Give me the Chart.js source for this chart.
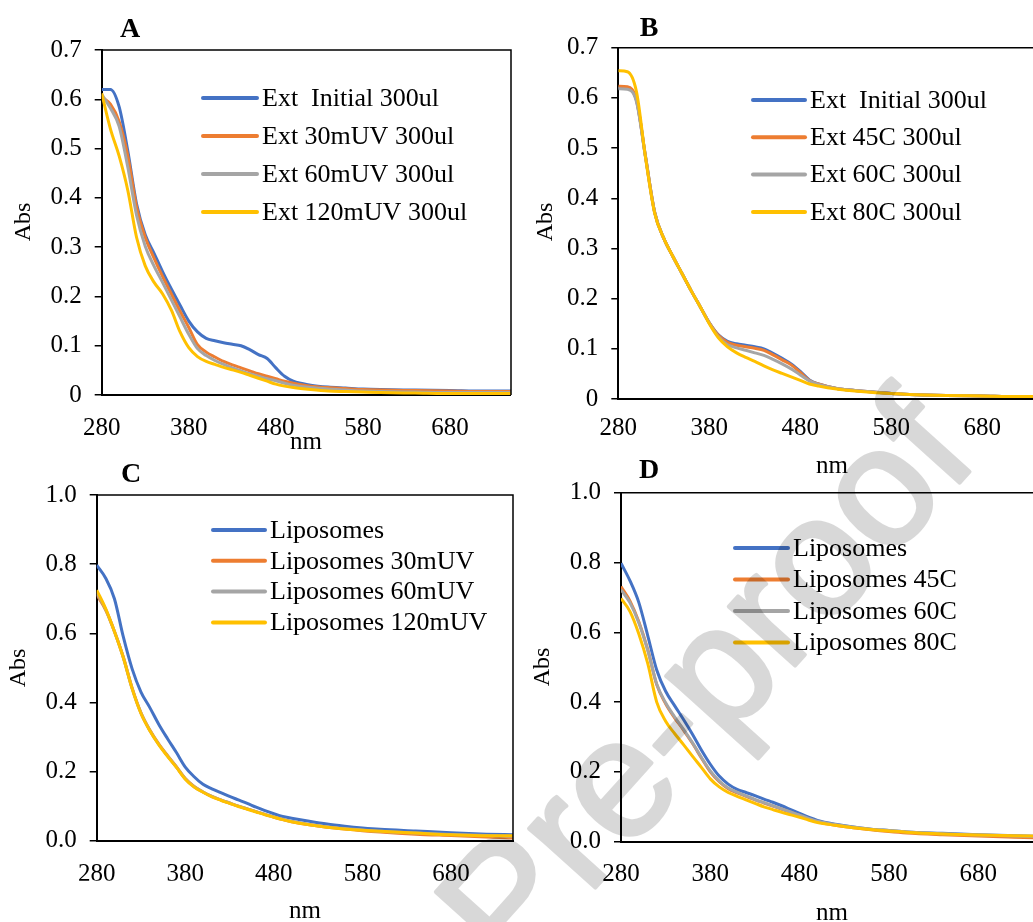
<!DOCTYPE html>
<html>
<head>
<meta charset="utf-8">
<script src="https://cdn.jsdelivr.net/npm/chart.js@4.4.1/dist/chart.umd.min.js"></script>
<style>
  html, body { margin: 0; padding: 0; overflow: hidden; background: #fff; width: 1033px; height: 922px; }
  canvas { position: absolute; left: 0; top: 0; }
  #mark { opacity: 0.15; }
</style>
</head>
<body>
<canvas id="chartA" width="1100" height="922"></canvas>
<canvas id="chartB" width="1100" height="922"></canvas>
<canvas id="chartC" width="1100" height="922"></canvas>
<canvas id="chartD" width="1100" height="922"></canvas>
<canvas id="mark" width="1033" height="922"></canvas>
<script>
// wavelengths (nm) shared by every series
const nm = [280, 290, 300, 310, 320, 330, 340, 350, 360, 370, 380, 390, 400, 410, 420, 430, 440, 450, 460, 470, 480, 490, 500, 520, 540, 560, 580, 600, 640, 680, 720, 750];

const xTicks = [280, 380, 480, 580, 680];
const yTicksAB = [0, 0.1, 0.2, 0.3, 0.4, 0.5, 0.6, 0.7];
const yTicksCD = [0, 0.2, 0.4, 0.6, 0.8, 1.0];

// A - extract, UV exposure
const labelsA = ["Ext  Initial 300ul", "Ext 30mUV 300ul", "Ext 60mUV 300ul", "Ext 120mUV 300ul"];
const extInitialA = [0.620, 0.620, 0.585, 0.495, 0.388, 0.325, 0.288, 0.250, 0.215, 0.182, 0.150, 0.128, 0.115, 0.110, 0.106, 0.103, 0.100, 0.092, 0.082, 0.074, 0.055, 0.038, 0.028, 0.020, 0.016, 0.014, 0.012, 0.011, 0.010, 0.009, 0.008, 0.008];
const ext30mUV = [0.605, 0.590, 0.555, 0.485, 0.382, 0.320, 0.278, 0.240, 0.205, 0.170, 0.137, 0.102, 0.087, 0.077, 0.068, 0.061, 0.055, 0.049, 0.043, 0.038, 0.033, 0.028, 0.024, 0.018, 0.015, 0.013, 0.011, 0.010, 0.009, 0.008, 0.007, 0.007];
const ext60mUV = [0.610, 0.582, 0.545, 0.462, 0.365, 0.302, 0.262, 0.228, 0.193, 0.158, 0.123, 0.094, 0.080, 0.070, 0.062, 0.055, 0.049, 0.043, 0.038, 0.033, 0.029, 0.024, 0.020, 0.015, 0.012, 0.010, 0.008, 0.007, 0.006, 0.005, 0.005, 0.005];
const ext120mUV = [0.612, 0.540, 0.485, 0.415, 0.320, 0.262, 0.229, 0.205, 0.172, 0.128, 0.096, 0.078, 0.068, 0.062, 0.056, 0.051, 0.046, 0.040, 0.034, 0.028, 0.022, 0.018, 0.015, 0.011, 0.008, 0.007, 0.006, 0.005, 0.004, 0.003, 0.003, 0.003];

// B - extract, heating
const labelsB = ["Ext  Initial 300ul", "Ext 45C 300ul", "Ext 60C 300ul", "Ext 80C 300ul"];
const extInitialB = [0.620, 0.619, 0.595, 0.482, 0.372, 0.320, 0.284, 0.250, 0.216, 0.184, 0.152, 0.128, 0.115, 0.110, 0.107, 0.104, 0.100, 0.091, 0.081, 0.070, 0.055, 0.038, 0.030, 0.021, 0.017, 0.014, 0.011, 0.009, 0.007, 0.006, 0.005, 0.005];
const ext45C = [0.623, 0.622, 0.596, 0.482, 0.372, 0.320, 0.284, 0.250, 0.216, 0.184, 0.152, 0.127, 0.113, 0.107, 0.104, 0.101, 0.097, 0.088, 0.078, 0.068, 0.053, 0.037, 0.030, 0.021, 0.017, 0.014, 0.011, 0.009, 0.007, 0.006, 0.005, 0.005];
const ext60C = [0.618, 0.617, 0.592, 0.480, 0.371, 0.320, 0.284, 0.250, 0.216, 0.184, 0.151, 0.124, 0.108, 0.102, 0.097, 0.092, 0.087, 0.079, 0.070, 0.060, 0.048, 0.036, 0.029, 0.021, 0.017, 0.014, 0.011, 0.009, 0.007, 0.006, 0.005, 0.005];
const ext80C = [0.654, 0.652, 0.612, 0.480, 0.370, 0.320, 0.284, 0.250, 0.216, 0.184, 0.150, 0.122, 0.104, 0.092, 0.083, 0.075, 0.066, 0.058, 0.051, 0.044, 0.037, 0.030, 0.026, 0.020, 0.016, 0.013, 0.011, 0.009, 0.007, 0.006, 0.005, 0.005];

// C - liposomes, UV exposure
const labelsC = ["Liposomes", "Liposomes 30mUV", "Liposomes 60mUV", "Liposomes 120mUV"];
const liposomesC = [0.797, 0.760, 0.700, 0.590, 0.497, 0.430, 0.385, 0.337, 0.295, 0.255, 0.213, 0.185, 0.163, 0.150, 0.139, 0.128, 0.118, 0.108, 0.097, 0.087, 0.078, 0.070, 0.065, 0.056, 0.048, 0.042, 0.037, 0.033, 0.028, 0.023, 0.019, 0.017];
const lipo30mUV = [0.712, 0.668, 0.606, 0.532, 0.442, 0.370, 0.320, 0.280, 0.246, 0.214, 0.180, 0.157, 0.141, 0.128, 0.118, 0.109, 0.100, 0.092, 0.084, 0.076, 0.068, 0.061, 0.055, 0.046, 0.039, 0.034, 0.029, 0.025, 0.019, 0.015, 0.011, 0.008];
const lipo60mUV = [0.718, 0.670, 0.605, 0.530, 0.440, 0.369, 0.319, 0.279, 0.245, 0.213, 0.179, 0.156, 0.141, 0.128, 0.118, 0.109, 0.100, 0.092, 0.084, 0.076, 0.069, 0.062, 0.056, 0.047, 0.040, 0.035, 0.031, 0.027, 0.022, 0.018, 0.015, 0.013];
const lipo120mUV = [0.725, 0.672, 0.605, 0.530, 0.440, 0.368, 0.318, 0.278, 0.244, 0.212, 0.178, 0.155, 0.140, 0.127, 0.117, 0.108, 0.099, 0.091, 0.083, 0.075, 0.068, 0.061, 0.055, 0.046, 0.039, 0.034, 0.030, 0.027, 0.022, 0.017, 0.014, 0.014];

// D - liposomes, heating
const labelsD = ["Liposomes", "Liposomes 45C", "Liposomes 60C", "Liposomes 80C"];
const liposomesD = [0.798, 0.748, 0.685, 0.590, 0.492, 0.431, 0.390, 0.350, 0.308, 0.263, 0.222, 0.188, 0.165, 0.150, 0.141, 0.132, 0.122, 0.113, 0.103, 0.092, 0.081, 0.070, 0.061, 0.050, 0.042, 0.036, 0.032, 0.028, 0.024, 0.020, 0.017, 0.015];
const lipo45C = [0.731, 0.690, 0.630, 0.550, 0.450, 0.395, 0.355, 0.320, 0.282, 0.240, 0.200, 0.172, 0.152, 0.140, 0.130, 0.120, 0.111, 0.102, 0.093, 0.084, 0.075, 0.065, 0.057, 0.047, 0.040, 0.034, 0.029, 0.025, 0.020, 0.016, 0.013, 0.011];
const lipo60C = [0.722, 0.685, 0.627, 0.548, 0.452, 0.398, 0.358, 0.322, 0.284, 0.242, 0.203, 0.174, 0.154, 0.142, 0.131, 0.121, 0.112, 0.103, 0.094, 0.085, 0.076, 0.067, 0.059, 0.049, 0.042, 0.036, 0.032, 0.028, 0.023, 0.019, 0.016, 0.015];
const lipo80C = [0.697, 0.660, 0.595, 0.510, 0.400, 0.345, 0.310, 0.278, 0.245, 0.213, 0.180, 0.157, 0.141, 0.130, 0.120, 0.110, 0.100, 0.092, 0.084, 0.077, 0.070, 0.062, 0.055, 0.047, 0.040, 0.035, 0.031, 0.027, 0.022, 0.019, 0.017, 0.016];

const colors = ["#4472C4", "#ED7D31", "#A5A5A5", "#FFC000"];
const serif = "'Liberation Serif', 'Times New Roman', serif";
const W = 1100, H = 922, yw = 60, xh = 40;

const fmtAB = (v) => (v === 0 ? "0" : v.toFixed(1));
const fmtCD = (v) => v.toFixed(1);

// draws the top/right frame, legend and free texts (page coordinates)
function extras(p) {
  return {
    id: "extras" + p.letter,
    afterDatasetsDraw(chart) {
      const { ctx, chartArea: a } = chart;
      ctx.save();
      ctx.strokeStyle = "#000";
      ctx.lineWidth = 1.5;
      ctx.beginPath();
      ctx.moveTo(a.left, a.top);
      ctx.lineTo(a.right, a.top);
      ctx.lineTo(a.right, a.bottom);
      ctx.stroke();

      // legend
      ctx.lineWidth = 4;
      ctx.lineCap = "round";
      ctx.font = "26px " + serif;
      ctx.textBaseline = "middle";
      ctx.textAlign = "left";
      chart.data.datasets.forEach((ds, i) => {
        const y = p.legend.y + i * p.legend.gap;
        ctx.strokeStyle = ds.borderColor;
        ctx.beginPath();
        ctx.moveTo(p.legend.x, y);
        ctx.lineTo(p.legend.x + p.legend.len, y);
        ctx.stroke();
        ctx.fillStyle = "#000";
        ctx.fillText(ds.label, p.legend.x + p.legend.len + 5, y + 1);
      });

      // panel letter
      ctx.fillStyle = "#000";
      ctx.textAlign = "center";
      ctx.textBaseline = "alphabetic";
      ctx.font = "bold 28px " + serif;
      ctx.fillText(p.letter, p.letterPos[0], p.letterPos[1]);

      // x title
      ctx.font = "25px " + serif;
      ctx.fillText("nm", p.nmPos[0], p.nmPos[1]);

      // y title
      ctx.translate(p.absPos[0], p.absPos[1]);
      ctx.rotate(-Math.PI / 2);
      ctx.textBaseline = "middle";
      ctx.font = "24px " + serif;
      ctx.fillText("Abs", 0, 0);
      ctx.restore();
    }
  };
}

function panel(id, p) {
  const area = p.area;
  new Chart(document.getElementById(id), {
    type: "line",
    data: {
      datasets: p.series.map((s, i) => ({
        label: p.labels[i],
        data: nm.map((x, j) => ({ x: x, y: s[j] })),
        borderColor: colors[i],
        backgroundColor: colors[i],
        borderWidth: 3,
        pointRadius: 0,
        cubicInterpolationMode: "monotone",
        fill: false,
        order: p.series.length - i // later series drawn on top
      }))
    },
    options: {
      responsive: false,
      animation: false,
      events: [],
      layout: {
        padding: { left: area[0] - yw, top: area[1], right: W - area[2], bottom: H - area[3] - xh }
      },
      plugins: { legend: { display: false }, tooltip: { enabled: false } },
      scales: {
        x: {
          type: "linear",
          min: 280,
          max: 750,
          afterBuildTicks: (a) => { a.ticks = xTicks.map((v) => ({ value: v })); },
          afterFit: (a) => { a.height = xh; },
          grid: { display: false, drawTicks: false },
          border: { display: true, color: "#000", width: 2 },
          ticks: { color: "#000", font: { family: serif, size: 25 }, padding: p.xPad, maxRotation: 0, autoSkip: false }
        },
        y: {
          min: 0,
          max: p.yMax,
          afterBuildTicks: (a) => { a.ticks = p.yTicks.map((v) => ({ value: v })); },
          afterFit: (a) => { a.width = yw; },
          grid: { display: true, drawOnChartArea: false, drawTicks: true, tickLength: 7, color: "#000", lineWidth: 1.5 },
          border: { display: true, color: "#000", width: 2 },
          ticks: { color: "#000", font: { family: serif, size: 25 }, padding: 13, callback: p.fmt }
        }
      }
    },
    plugins: [extras(p)]
  });
}

panel("chartA", {
  letter: "A", area: [101.7, 50, 511, 395], yMax: 0.7, yTicks: yTicksAB, fmt: fmtAB, xPad: 18,
  series: [extInitialA, ext30mUV, ext60mUV, ext120mUV], labels: labelsA,
  legend: { x: 203, y: 98, gap: 38, len: 54 },
  letterPos: [130, 37], nmPos: [306, 449], absPos: [24, 222]
});
panel("chartB", {
  letter: "B", area: [618.3, 47.7, 1046, 399], yMax: 0.7, yTicks: yTicksAB, fmt: fmtAB, xPad: 14,
  series: [extInitialB, ext45C, ext60C, ext80C], labels: labelsB,
  legend: { x: 753, y: 100, gap: 37.3, len: 52 },
  letterPos: [649, 36], nmPos: [832, 473], absPos: [546, 222]
});
panel("chartC", {
  letter: "C", area: [96.7, 495, 513, 840.7], yMax: 1.0, yTicks: yTicksCD, fmt: fmtCD, xPad: 19,
  series: [liposomesC, lipo30mUV, lipo60mUV, lipo120mUV], labels: labelsC,
  legend: { x: 213, y: 530, gap: 30.8, len: 52 },
  letterPos: [131, 481.5], nmPos: [305, 918], absPos: [19, 668]
});
panel("chartD", {
  letter: "D", area: [621, 492.7, 1040.7, 841.7], yMax: 1.0, yTicks: yTicksCD, fmt: fmtCD, xPad: 18,
  series: [liposomesD, lipo45C, lipo60C, lipo80C], labels: labelsD,
  legend: { x: 735, y: 548, gap: 31.5, len: 53 },
  letterPos: [649, 478], nmPos: [832, 920], absPos: [543, 667]
});

// journal watermark laid over the figure (canvas opacity set in CSS)
const mctx = document.getElementById("mark").getContext("2d");
mctx.save();
mctx.translate(981, 459);
mctx.rotate(-48 * Math.PI / 180);
mctx.fillStyle = "#000";
mctx.strokeStyle = "#000";
mctx.lineWidth = 4;
mctx.lineJoin = "round";
mctx.font = "168px 'Liberation Sans', Arial, sans-serif";
mctx.textAlign = "right";
mctx.textBaseline = "alphabetic";
mctx.fillText("Journal Pre-proof", 0, 0);
mctx.strokeText("Journal Pre-proof", 0, 0);
mctx.restore();
</script>
</body>
</html>
